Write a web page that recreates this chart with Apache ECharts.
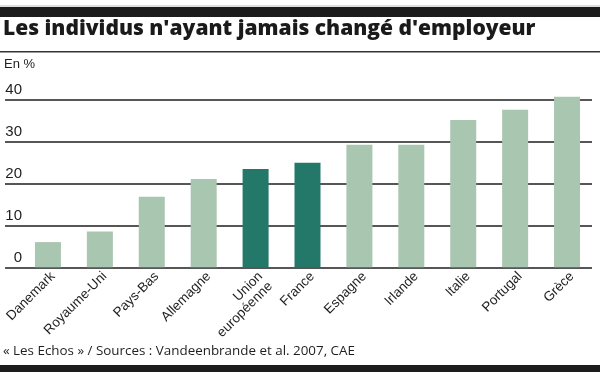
<!DOCTYPE html>
<html>
<head>
<meta charset="utf-8">
<script src="https://cdn.jsdelivr.net/npm/echarts@6/dist/echarts.min.js"></script>
<style>
html,body{margin:0;padding:0;background:#fff;}
#chart{width:600px;height:372px;}
</style>
</head>
<body>
<div id="chart"></div>
<script>
const categories = ['Danemark','Royaume-Uni','Pays-Bas','Allemagne','Union\neuropéenne','France','Espagne','Irlande','Italie','Portugal','Grèce'];
const values = [6.0, 8.5, 16.8, 21.0, 23.4, 24.9, 29.2, 29.2, 35.1, 37.5, 40.6];
const highlighted = ['Union\neuropéenne','France'];
const yTicks = [0, 10, 20, 30, 40];
const titleText = "Les individus n'ayant jamais changé d'employeur";
const unitText = 'En %';
const sourceText = '« Les Echos » / Sources : Vandeenbrande et al. 2007, CAE';

const LIGHT = '#a9c6b0';
const DARK = '#23786a';
const INK = '#1e1e1e';

const chart = echarts.init(document.getElementById('chart'));
const yMin = yTicks[0], yMax = yTicks[yTicks.length - 1], yStep = yTicks[1] - yTicks[0];

chart.setOption({
  animation: false,
  backgroundColor: '#fff',
  grid: [
    {left: 22, right: 7, top: 99.3, bottom: 104.7, containLabel: false},
    {left: 5, right: 8, top: 99.3, bottom: 104.7, containLabel: false}
  ],
  xAxis: [
    {
      gridIndex: 0, type: 'category', data: categories,
      axisLine: {show: false}, axisTick: {show: false},
      axisLabel: {
        rotate: 45, interval: 0, margin: 2, verticalAlign: 'top',
        fontFamily: 'Liberation Sans', fontSize: 13.5, color: INK, lineHeight: 14
      }
    },
    {gridIndex: 1, type: 'value', show: false, min: 0, max: 1}
  ],
  yAxis: [
    {
      gridIndex: 0, type: 'value', min: yMin, max: yMax, interval: yStep,
      axisLine: {show: false}, axisTick: {show: false}, splitLine: {show: false},
      axisLabel: {
        margin: 0, verticalAlign: 'bottom', padding: [0, 0, 2, 0],
        fontFamily: 'Liberation Sans', fontSize: 15, color: INK
      }
    },
    {
      gridIndex: 1, type: 'value', min: yMin, max: yMax, interval: yStep,
      axisLine: {show: false}, axisTick: {show: false}, axisLabel: {show: false},
      splitLine: {show: true, lineStyle: {color: INK, width: 1.6}}
    }
  ],
  series: [{
    type: 'bar', xAxisIndex: 0, yAxisIndex: 0,
    barWidth: 26, clip: false, z: 3,
    data: categories.map((c, i) => ({
      value: values[i],
      itemStyle: {color: highlighted.includes(c) ? DARK : LIGHT}
    }))
  }],
  graphic: [
    {type: 'rect', shape: {x: 0, y: 5.5, width: 600, height: 1}, style: {fill: '#bbbbbb'}},
    {type: 'rect', shape: {x: 0, y: 7, width: 600, height: 10}, style: {fill: '#1c1c1c'}},
    {type: 'text', left: 3, top: 18.5, style: {text: titleText, font: '800 21px "Open Sans"', fill: '#1a1a1a'}},
    {type: 'rect', shape: {x: 0, y: 51, width: 600, height: 1.5}, style: {fill: '#333'}},
    {type: 'text', left: 4, top: 58, style: {text: unitText, font: '13px "Liberation Sans"', fill: INK}},
    {type: 'text', left: 3, top: 345, style: {text: sourceText, font: '13.4px "Open Sans"', fill: INK}},
    {type: 'rect', shape: {x: 0, y: 365, width: 600, height: 7}, style: {fill: '#1c1c1c'}}
  ]
});
</script>
</body>
</html>
